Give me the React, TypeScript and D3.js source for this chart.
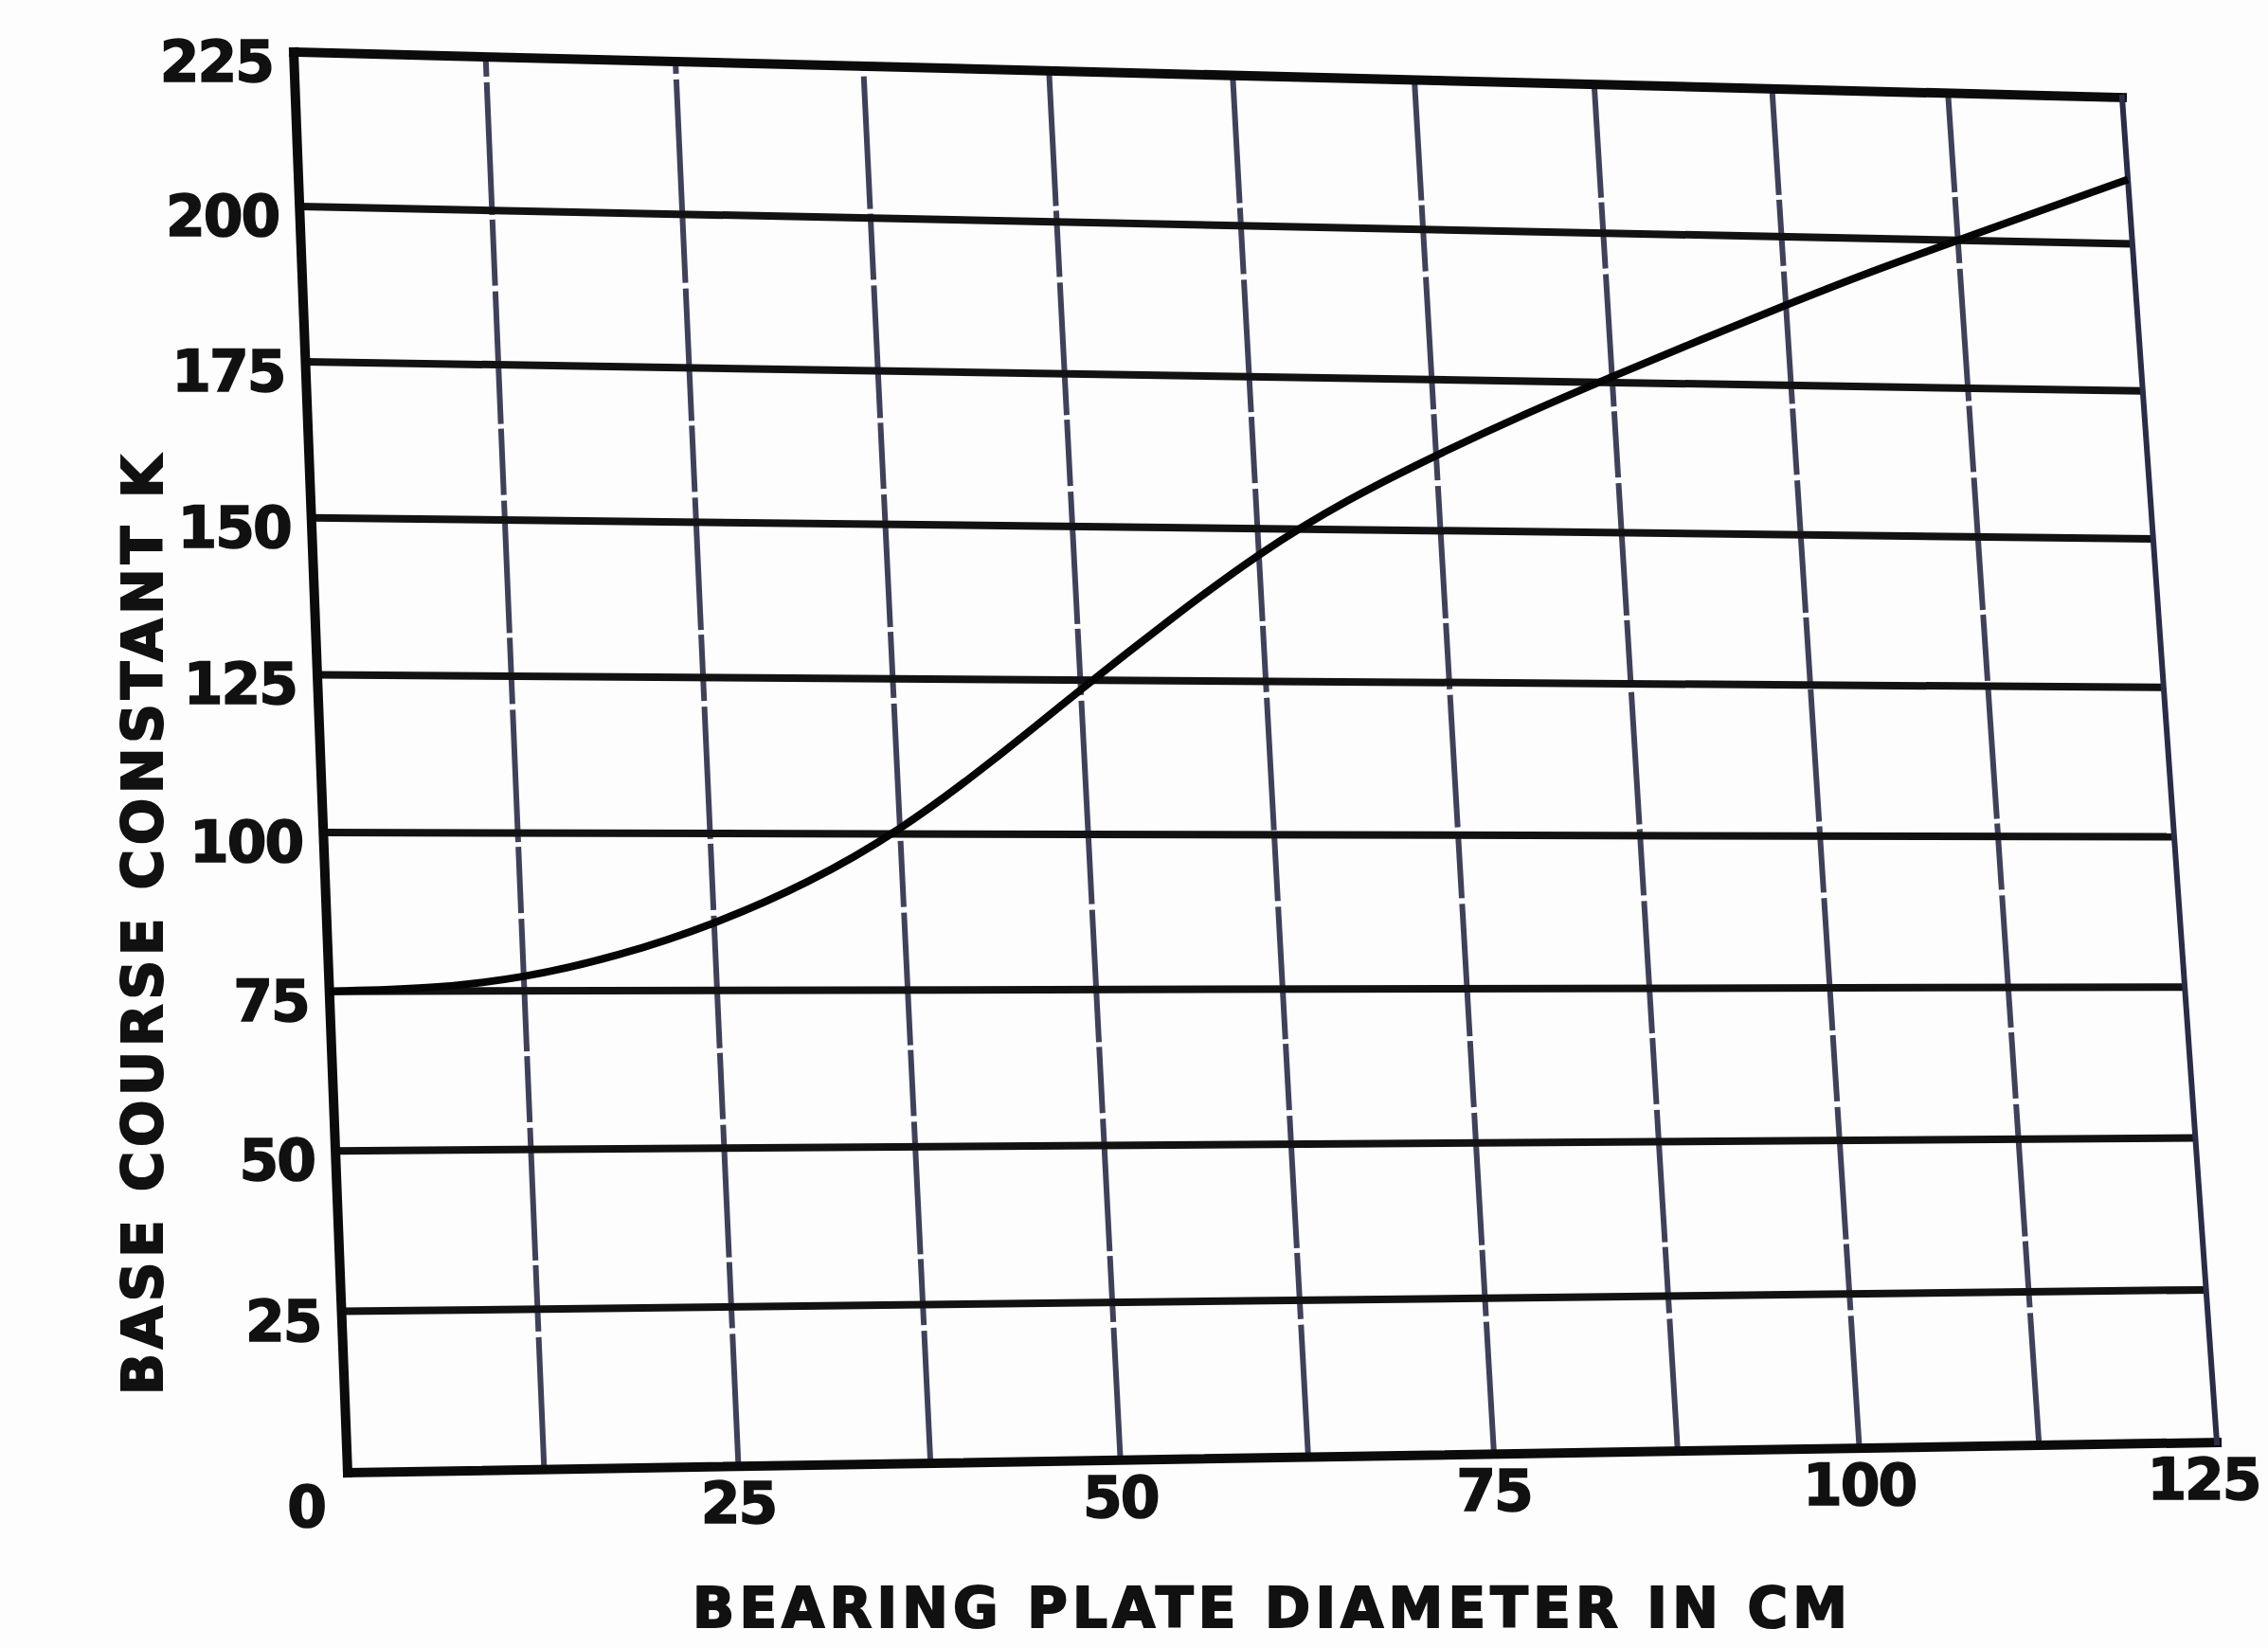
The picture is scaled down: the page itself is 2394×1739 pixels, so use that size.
import React, { useEffect, useRef } from "react";
import * as d3 from "d3";

// values
const xTicks = [0, 25, 50, 75, 100, 125];
const yTicks = [0, 25, 50, 75, 100, 125, 150, 175, 200, 225];
const xGrid = [12.5, 25, 37.5, 50, 62.5, 75, 87.5, 100, 112.5];

// base course constant K vs bearing plate diameter (cm)
const diameter = [0, 6.25, 12.5, 18.75, 25, 31.25, 37.5, 43.75, 50, 56.25, 62.5, 68.75, 75, 81.25, 87.5, 93.75, 100, 106.25, 112.5, 118.75, 125];
const kValue = [75, 75.3, 77, 80.5, 85.5, 92, 100.5, 111.5, 123.5, 135, 146, 155, 162.5, 169.5, 176, 182.3, 188.5, 194.5, 200, 205.5, 211];

const xTitle = "BEARING PLATE DIAMETER IN CM";
const yTitle = "BASE COURSE CONSTANT K";

const W = 2394;
const H = 1739;

// the scan is photographed at a slant, so the plot frame is a quad
const frame = {
  bl: [367, 1555],
  br: [2340, 1523],
  tr: [2240, 103],
  tl: [310, 55],
};

// unit square -> quad (projective)
function projector(q: typeof frame) {
  const [x0, y0] = q.bl, [x1, y1] = q.br, [x2, y2] = q.tr, [x3, y3] = q.tl;
  const dx1 = x1 - x2, dx2 = x3 - x2, dx3 = x0 - x1 + x2 - x3;
  const dy1 = y1 - y2, dy2 = y3 - y2, dy3 = y0 - y1 + y2 - y3;
  const den = dx1 * dy2 - dx2 * dy1;
  const g = (dx3 * dy2 - dx2 * dy3) / den;
  const h = (dx1 * dy3 - dx3 * dy1) / den;
  const a = x1 - x0 + g * x1, b = x3 - x0 + h * x3, c = x0;
  const d = y1 - y0 + g * y1, e = y3 - y0 + h * y3, f = y0;
  return (u: number, v: number): [number, number] => {
    const w = g * u + h * v + 1;
    return [(a * u + b * v + c) / w, (d * u + e * v + f) / w];
  };
}

const App = () => {
  const svgRef = useRef<SVGSVGElement>(null);

  useEffect(() => {
    const svg = d3.select(svgRef.current);
    svg.selectAll("*").remove();

    const x = d3.scaleLinear().domain([0, 125]).range([0, 1]);
    const y = d3.scaleLinear().domain([0, 225]).range([0, 1]);
    const proj = projector(frame);
    const P = (dx: number, k: number) => proj(x(dx), y(k));

    svg.append("rect").attr("width", W).attr("height", H).attr("fill", "#fdfdfd");

    const g = svg.append("g").attr("stroke-linecap", "butt");

    // vertical grid, fainter and a bit broken like the scan
    g.selectAll(".vgrid")
      .data(xGrid)
      .join("line")
      .attr("class", "vgrid")
      .attr("x1", d => P(d, 0)[0])
      .attr("y1", d => P(d, 0)[1])
      .attr("x2", d => P(d, 225)[0])
      .attr("y2", d => P(d, 225)[1])
      .attr("stroke", "#2a2c48")
      .attr("stroke-opacity", 0.9)
      .attr("stroke-width", 6)
      .attr("stroke-dasharray", "140 6 70 5");

    // horizontal grid, heavy black
    g.selectAll(".hgrid")
      .data(yTicks.filter(k => k > 0 && k < 225))
      .join("line")
      .attr("class", "hgrid")
      .attr("x1", d => P(0, d)[0])
      .attr("y1", d => P(0, d)[1])
      .attr("x2", d => P(125, d)[0])
      .attr("y2", d => P(125, d)[1])
      .attr("stroke", "#121212")
      .attr("stroke-width", 8);

    // frame
    const edges = [
      { a: [0, 0], b: [0, 225], w: 10, c: "#0b0b0b" },
      { a: [0, 0], b: [125, 0], w: 10, c: "#0b0b0b" },
      { a: [0, 225], b: [125, 225], w: 10, c: "#0b0b0b" },
      { a: [125, 0], b: [125, 225], w: 6, c: "#2a2c48" },
    ];
    g.selectAll(".edge")
      .data(edges)
      .join("line")
      .attr("class", "edge")
      .attr("x1", d => P(d.a[0], d.a[1])[0])
      .attr("y1", d => P(d.a[0], d.a[1])[1])
      .attr("x2", d => P(d.b[0], d.b[1])[0])
      .attr("y2", d => P(d.b[0], d.b[1])[1])
      .attr("stroke", d => d.c)
      .attr("stroke-width", d => d.w)
      .attr("stroke-linecap", "square");

    // the curve
    const pts = diameter.map((dx, i) => P(dx, kValue[i]));
    const line = d3.line<[number, number]>().curve(d3.curveBasis);
    g.append("path")
      .attr("d", line(pts))
      .attr("fill", "none")
      .attr("stroke", "#050505")
      .attr("stroke-width", 8);

    const font = "'DejaVu Sans', 'Liberation Sans', sans-serif";

    // y tick labels
    svg.append("g")
      .selectAll("text")
      .data(yTicks.filter(k => k > 0))
      .join("text")
      .attr("x", d => P(0, d)[0] - 22)
      .attr("y", d => P(0, d)[1] + 31)
      .attr("text-anchor", "end")
      .attr("font-family", font)
      .attr("font-weight", "bold")
      .attr("font-size", 60)
      .attr("letter-spacing", -2)
      .attr("stroke", "#111")
      .attr("stroke-width", 1.5)
      .attr("fill", "#111")
      .text(d => d);

    // x tick labels
    svg.append("g")
      .selectAll("text")
      .data(xTicks)
      .join("text")
      .attr("x", d => (d === 0 ? P(0, 0)[0] - 44 : P(d, 0)[0] - (d === 125 ? 14 : 0)))
      .attr("y", d => P(d, 0)[1] + (d === 0 ? 57 : 60))
      .attr("text-anchor", "middle")
      .attr("font-family", font)
      .attr("font-weight", "bold")
      .attr("font-size", 60)
      .attr("letter-spacing", -2)
      .attr("stroke", "#111")
      .attr("stroke-width", 1.5)
      .attr("fill", "#111")
      .text(d => d);

    // axis titles
    svg.append("text")
      .attr("x", 731)
      .attr("y", 1718)
      .attr("textLength", 1219)
      .attr("lengthAdjust", "spacing")
      .attr("font-family", font)
      .attr("font-weight", "bold")
      .attr("font-size", 58)
      .attr("stroke", "#111")
      .attr("stroke-width", 2)
      .attr("fill", "#111")
      .text(xTitle);

    svg.append("text")
      .attr("transform", "translate(171, 1473) rotate(-90)")
      .attr("textLength", 992)
      .attr("lengthAdjust", "spacing")
      .attr("font-family", font)
      .attr("font-weight", "bold")
      .attr("font-size", 58)
      .attr("stroke", "#111")
      .attr("stroke-width", 2)
      .attr("fill", "#111")
      .text(yTitle);
  }, []);

  return (
    <svg
      ref={svgRef}
      width={W}
      height={H}
      style={{ position: "absolute", left: 0, top: 0 }}
    ></svg>
  );
};

export default App;
